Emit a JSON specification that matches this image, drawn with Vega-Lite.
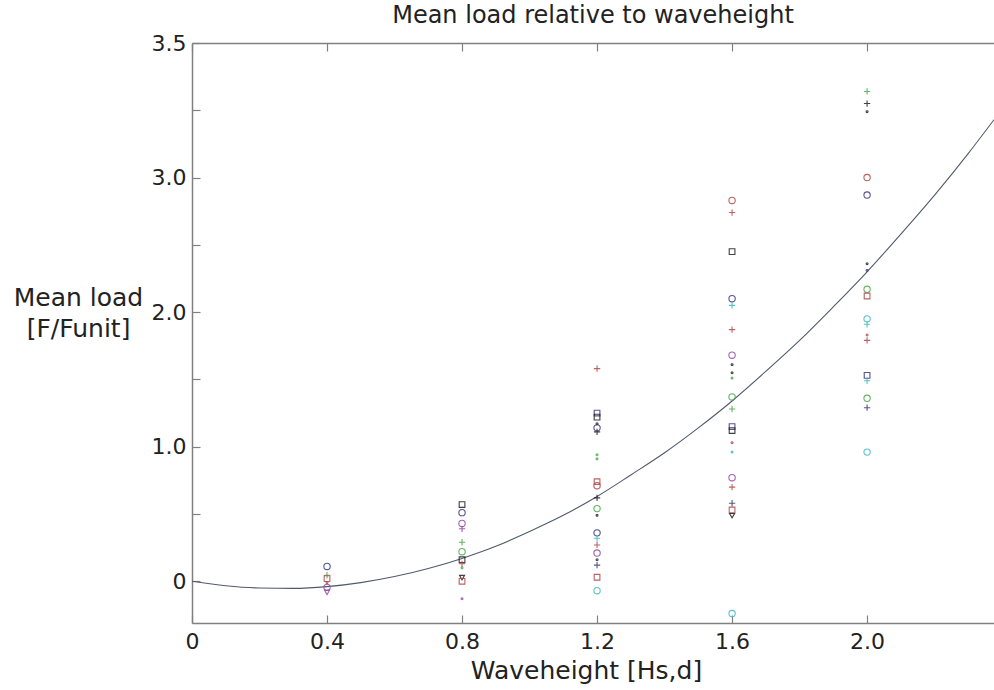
{
  "$schema": "https://vega.github.io/schema/vega-lite/v6.json",
  "width": 802,
  "height": 580,
  "autosize": {"type": "none"},
  "padding": {"left": 192, "top": 43, "right": 0, "bottom": 67},
  "background": "white",
  "title": {"text": "Mean load relative to waveheight", "font": "DejaVu Sans", "fontSize": 24, "fontWeight": "normal", "color": "#222", "anchor": "middle", "offset": 4},
  "config": {
    "view": {"stroke": null},
    "axis": {"labelFont": "DejaVu Sans", "titleFont": "DejaVu Sans", "labelFontSize": 22, "titleFontSize": 25, "titleFontWeight": "normal", "labelColor": "#222", "titleColor": "#222", "domainColor": "#808080", "domainWidth": 1.5, "tickColor": "#808080", "tickWidth": 1.2, "grid": false, "labelFlush": false, "labelOverlap": false}
  },
  "datasets": {
    "curve": [
      {"x": 0, "y": 0}, {"x": 0.1, "y": -0.033}, {"x": 0.2, "y": -0.05}, {"x": 0.3, "y": -0.053}, {"x": 0.4, "y": -0.04},
      {"x": 0.5, "y": -0.01}, {"x": 0.6, "y": 0.035}, {"x": 0.7, "y": 0.095}, {"x": 0.8, "y": 0.17}, {"x": 0.9, "y": 0.26},
      {"x": 1.0, "y": 0.37}, {"x": 1.1, "y": 0.49}, {"x": 1.2, "y": 0.63}, {"x": 1.3, "y": 0.79}, {"x": 1.4, "y": 0.955},
      {"x": 1.5, "y": 1.14}, {"x": 1.6, "y": 1.34}, {"x": 1.7, "y": 1.56}, {"x": 1.8, "y": 1.79}, {"x": 1.9, "y": 2.04},
      {"x": 2.0, "y": 2.3}, {"x": 2.1, "y": 2.58}, {"x": 2.2, "y": 2.87}, {"x": 2.3, "y": 3.18}, {"x": 2.376, "y": 3.43}
    ],
    "pts": [
      {"x": 0.4, "y": 0.11, "c": "b", "m": "o"},
      {"x": 0.4, "y": 0.045, "c": "g", "m": "+"},
      {"x": 0.4, "y": 0.02, "c": "r", "m": "s"},
      {"x": 0.4, "y": -0.01, "c": "r", "m": "."},
      {"x": 0.4, "y": -0.045, "c": "m", "m": "o"},
      {"x": 0.4, "y": -0.08, "c": "m", "m": "v"},
      {"x": 0.8, "y": 0.57, "c": "k", "m": "s"},
      {"x": 0.8, "y": 0.51, "c": "b", "m": "o"},
      {"x": 0.8, "y": 0.43, "c": "m", "m": "o"},
      {"x": 0.8, "y": 0.39, "c": "m", "m": "+"},
      {"x": 0.8, "y": 0.29, "c": "g", "m": "+"},
      {"x": 0.8, "y": 0.22, "c": "g", "m": "o"},
      {"x": 0.8, "y": 0.16, "c": "k", "m": "s"},
      {"x": 0.8, "y": 0.13, "c": "r", "m": "+"},
      {"x": 0.8, "y": 0.1, "c": "g", "m": "."},
      {"x": 0.8, "y": 0.03, "c": "k", "m": "v"},
      {"x": 0.8, "y": 0.0, "c": "r", "m": "s"},
      {"x": 0.8, "y": -0.13, "c": "m", "m": "."},
      {"x": 1.2, "y": 1.58, "c": "r", "m": "+"},
      {"x": 1.2, "y": 1.25, "c": "b", "m": "s"},
      {"x": 1.2, "y": 1.22, "c": "k", "m": "s"},
      {"x": 1.2, "y": 1.17, "c": "k", "m": "."},
      {"x": 1.2, "y": 1.14, "c": "b", "m": "o"},
      {"x": 1.2, "y": 1.11, "c": "k", "m": "+"},
      {"x": 1.2, "y": 0.94, "c": "g", "m": "."},
      {"x": 1.2, "y": 0.91, "c": "g", "m": "."},
      {"x": 1.2, "y": 0.74, "c": "r", "m": "s"},
      {"x": 1.2, "y": 0.71, "c": "r", "m": "o"},
      {"x": 1.2, "y": 0.62, "c": "k", "m": "+"},
      {"x": 1.2, "y": 0.54, "c": "g", "m": "o"},
      {"x": 1.2, "y": 0.49, "c": "k", "m": "."},
      {"x": 1.2, "y": 0.36, "c": "b", "m": "o"},
      {"x": 1.2, "y": 0.32, "c": "c", "m": "+"},
      {"x": 1.2, "y": 0.27, "c": "r", "m": "+"},
      {"x": 1.2, "y": 0.21, "c": "m", "m": "o"},
      {"x": 1.2, "y": 0.16, "c": "k", "m": "."},
      {"x": 1.2, "y": 0.12, "c": "b", "m": "+"},
      {"x": 1.2, "y": 0.03, "c": "r", "m": "s"},
      {"x": 1.2, "y": -0.07, "c": "c", "m": "o"},
      {"x": 1.6, "y": 2.83, "c": "r", "m": "o"},
      {"x": 1.6, "y": 2.74, "c": "r", "m": "+"},
      {"x": 1.6, "y": 2.45, "c": "k", "m": "s"},
      {"x": 1.6, "y": 2.1, "c": "b", "m": "o"},
      {"x": 1.6, "y": 2.05, "c": "c", "m": "+"},
      {"x": 1.6, "y": 1.87, "c": "r", "m": "+"},
      {"x": 1.6, "y": 1.68, "c": "m", "m": "o"},
      {"x": 1.6, "y": 1.61, "c": "k", "m": "."},
      {"x": 1.6, "y": 1.55, "c": "k", "m": "."},
      {"x": 1.6, "y": 1.51, "c": "g", "m": "."},
      {"x": 1.6, "y": 1.37, "c": "g", "m": "o"},
      {"x": 1.6, "y": 1.28, "c": "g", "m": "+"},
      {"x": 1.6, "y": 1.15, "c": "b", "m": "s"},
      {"x": 1.6, "y": 1.12, "c": "k", "m": "s"},
      {"x": 1.6, "y": 1.03, "c": "r", "m": "."},
      {"x": 1.6, "y": 0.96, "c": "c", "m": "."},
      {"x": 1.6, "y": 0.77, "c": "m", "m": "o"},
      {"x": 1.6, "y": 0.7, "c": "r", "m": "+"},
      {"x": 1.6, "y": 0.58, "c": "b", "m": "+"},
      {"x": 1.6, "y": 0.53, "c": "r", "m": "s"},
      {"x": 1.6, "y": 0.49, "c": "k", "m": "v"},
      {"x": 1.6, "y": -0.24, "c": "c", "m": "o"},
      {"x": 2.0, "y": 3.64, "c": "g", "m": "+"},
      {"x": 2.0, "y": 3.55, "c": "k", "m": "+"},
      {"x": 2.0, "y": 3.49, "c": "k", "m": "."},
      {"x": 2.0, "y": 3.0, "c": "r", "m": "o"},
      {"x": 2.0, "y": 2.87, "c": "b", "m": "o"},
      {"x": 2.0, "y": 2.36, "c": "k", "m": "."},
      {"x": 2.0, "y": 2.31, "c": "b", "m": "."},
      {"x": 2.0, "y": 2.17, "c": "g", "m": "o"},
      {"x": 2.0, "y": 2.12, "c": "r", "m": "s"},
      {"x": 2.0, "y": 1.95, "c": "c", "m": "o"},
      {"x": 2.0, "y": 1.91, "c": "c", "m": "+"},
      {"x": 2.0, "y": 1.83, "c": "r", "m": "."},
      {"x": 2.0, "y": 1.79, "c": "r", "m": "+"},
      {"x": 2.0, "y": 1.53, "c": "b", "m": "s"},
      {"x": 2.0, "y": 1.49, "c": "c", "m": "+"},
      {"x": 2.0, "y": 1.36, "c": "g", "m": "o"},
      {"x": 2.0, "y": 1.29, "c": "b", "m": "+"},
      {"x": 2.0, "y": 0.96, "c": "c", "m": "o"}
    ]
  },
  "layer": [
    {
      "data": {"name": "curve"},
      "mark": {"type": "line", "clip": true, "color": "#525a6a", "strokeWidth": 1.1, "interpolate": "monotone"},
      "encoding": {
        "x": {"field": "x", "type": "quantitative", "scale": {"domain": [0, 2.376], "nice": false, "zero": false},
          "axis": {"orient": "bottom", "values": [0, 0.4, 0.8, 1.2, 1.6, 2.0], "labelExpr": "datum.value == 0 ? '0' : format(datum.value, '.1f')", "tickSize": -8, "labelPadding": 16, "title": "Waveheight [Hs,d]", "titleX": 394, "titleY": 55, "titleBaseline": "alphabetic", "titleAnchor": null, "titleAlign": "center"}},
        "y": {"field": "y", "type": "quantitative", "scale": {"domain": [-0.31, 4.0], "nice": false, "zero": false},
          "axis": {"values": [0, 0.5, 1, 1.5, 2, 2.5, 3, 3.5, 4], "labelExpr": "datum.value == 0 ? '0' : datum.value == 1 ? '1.0' : datum.value == 2 ? '2.0' : datum.value == 3 ? '3.0' : datum.value == 4 ? '3.5' : ''", "tickSize": -8, "labelPadding": 14, "title": ["Mean load", "[F/Funit]"], "titleAngle": 0, "titleAlign": "center", "titleX": -114, "titleY": 262, "titleBaseline": "alphabetic", "titleLineHeight": 31, "titleAnchor": null}}
      }
    },
    {
      "data": {"name": "pts"},
      "mark": {"type": "point", "filled": false, "strokeWidth": 1.1, "opacity": 0.85, "size": 40},
      "encoding": {
        "x": {"field": "x", "type": "quantitative", "scale": {"domain": [0, 2.376], "nice": false, "zero": false},
          "axis": {"orient": "top", "values": [0, 0.4, 0.8, 1.2, 1.6, 2.0], "labels": false, "tickSize": -8, "title": null}},
        "y": {"field": "y", "type": "quantitative", "scale": {"domain": [-0.31, 4.0], "nice": false, "zero": false},
          "axis": {"values": [0, 0.5, 1, 1.5, 2, 2.5, 3, 3.5, 4], "labelExpr": "datum.value == 0 ? '0' : datum.value == 1 ? '1.0' : datum.value == 2 ? '2.0' : datum.value == 3 ? '3.0' : datum.value == 4 ? '3.5' : ''", "tickSize": -8, "labelPadding": 14, "title": ["Mean load", "[F/Funit]"], "titleAngle": 0, "titleAlign": "center", "titleX": -114, "titleY": 262, "titleBaseline": "alphabetic", "titleLineHeight": 31, "titleAnchor": null}},
        "color": {"field": "c", "type": "nominal", "legend": null,
          "scale": {"domain": ["r", "b", "g", "c", "m", "k"], "range": ["#b04848", "#383880", "#48a848", "#40b8c0", "#9048a0", "#202020"]}},
        "shape": {"field": "m", "type": "nominal", "legend": null,
          "scale": {"domain": ["o", "s", "+", ".", "v"], "range": ["circle", "M-0.9,-0.9L0.9,-0.9L0.9,0.9L-0.9,0.9Z", "M-1,0L1,0M0,-1L0,1", "M-0.3,0A0.3,0.3 0 1,0 0.3,0A0.3,0.3 0 1,0 -0.3,0Z", "M-0.8,-0.6L0.8,-0.6L0,0.8Z"]}}
      }
    }
  ],
  "resolve": {"axis": {"x": "independent"}}
}
